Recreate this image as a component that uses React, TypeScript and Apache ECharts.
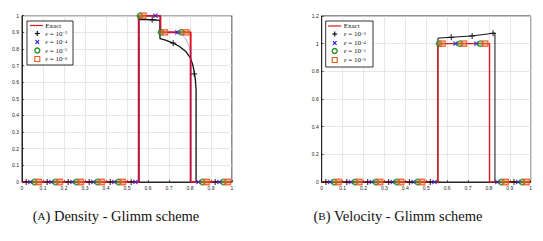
import React, { useEffect, useRef } from "react";
import * as echarts from "echarts";

// ---------- data ----------
const densityExact: number[][] = [[0, 0], [0.556, 0], [0.556, 1], [0.659, 1], [0.659, 0.9], [0.803, 0.9], [0.803, 0], [1, 0]];
const densityE3Line: number[][] = [[0, 0], [0.556, 0], [0.556, 0.978], [0.6, 0.976], [0.64, 0.974], [0.657, 0.972], [0.657, 0.862], [0.68, 0.855], [0.72, 0.835], [0.75, 0.815], [0.78, 0.785], [0.8, 0.75], [0.812, 0.71], [0.82, 0.665], [0.826, 0.61], [0.829, 0.55], [0.829, 0], [1, 0]];
const densityE4Line: number[][] = [[0, 0], [0.556, 0], [0.556, 1], [0.657, 1], [0.657, 0.9], [0.74, 0.9], [0.76, 0.89], [0.78, 0.86], [0.795, 0.82], [0.803, 0.79], [0.803, 0], [1, 0]];
const densityE3Marks: number[][] = [[0.02, 0], [0.12, 0], [0.22, 0], [0.32, 0], [0.42, 0], [0.52, 0], [0.62, 0.975], [0.72, 0.835], [0.82, 0.65], [0.92, 0]];
const densityE4Marks: number[][] = [[0.04, 0], [0.14, 0], [0.24, 0], [0.34, 0], [0.44, 0], [0.54, 0], [0.635, 1], [0.74, 0.9], [0.84, 0], [0.94, 0]];
const densityE5Marks: number[][] = [[0.06, 0], [0.16, 0], [0.26, 0], [0.36, 0], [0.46, 0], [0.562, 1], [0.662, 0.9], [0.76, 0.9], [0.86, 0], [0.96, 0]];
const densityE6Marks: number[][] = [[0.08, 0], [0.18, 0], [0.28, 0], [0.38, 0], [0.48, 0], [0.578, 1], [0.68, 0.9], [0.782, 0.9], [0.88, 0], [0.98, 0]];

const velocityExact: number[][] = [[0, 0], [0.556, 0], [0.556, 1], [0.803, 1], [0.803, 0], [1, 0]];
const velocityE3Line: number[][] = [[0, 0], [0.556, 0], [0.556, 1.04], [0.62, 1.046], [0.72, 1.056], [0.829, 1.077], [0.829, 0], [1, 0]];
const velocityE3Marks: number[][] = [[0.02, 0], [0.12, 0], [0.22, 0], [0.32, 0], [0.42, 0], [0.52, 0], [0.62, 1.046], [0.72, 1.056], [0.82, 1.075], [0.92, 0]];
const velocityE4Marks: number[][] = [[0.04, 0], [0.14, 0], [0.24, 0], [0.34, 0], [0.44, 0], [0.54, 0], [0.64, 1], [0.74, 1], [0.84, 0], [0.94, 0]];
const velocityE5Marks: number[][] = [[0.06, 0], [0.16, 0], [0.26, 0], [0.36, 0], [0.46, 0], [0.562, 1], [0.662, 1], [0.76, 1], [0.86, 0], [0.96, 0]];
const velocityE6Marks: number[][] = [[0.08, 0], [0.18, 0], [0.28, 0], [0.38, 0], [0.48, 0], [0.578, 1], [0.68, 1], [0.782, 1], [0.88, 0], [0.98, 0]];

const legendLabels = ["Exact", "−3", "−4", "−5", "−6"];
const captions = ["Density - Glimm scheme", "Velocity - Glimm scheme"];
const captionLetters = ["A", "B"];

// ---------- styles ----------
const SERIF = "'Liberation Serif', 'DejaVu Serif', serif";
const RED = "#e3161d";
const BLACK = "#111111";
const BLUE = "#1f1fe6";
const GREEN = "#1d8a1d";
const ORANGE = "#e85a1e";
const PLUS = "path://M4,0H6V4H10V6H6V10H4V6H0V4H4Z";

function scatter(data: number[][], idx: number, kind: string) {
  const base: any = {
    type: "scatter",
    data,
    xAxisIndex: idx,
    yAxisIndex: idx,
    z: 5,
    silent: true,
  };
  if (kind === "e3") return { ...base, symbol: PLUS, symbolSize: 6, itemStyle: { color: BLACK } };
  if (kind === "e4") return { ...base, symbol: PLUS, symbolRotate: 45, symbolSize: 6, itemStyle: { color: BLUE } };
  if (kind === "e5") return { ...base, symbol: "circle", symbolSize: 5.5, itemStyle: { color: "rgba(120,180,90,0.55)", borderColor: GREEN, borderWidth: 1.4 } };
  return { ...base, symbol: "rect", symbolSize: 5.5, itemStyle: { color: "rgba(240,130,70,0.6)", borderColor: ORANGE, borderWidth: 1.3 } };
}

function line(data: number[][], idx: number, color: string, width: number, opacity = 1, z = 3) {
  return {
    type: "line",
    data,
    xAxisIndex: idx,
    yAxisIndex: idx,
    symbol: "none",
    z,
    silent: true,
    lineStyle: { color, width, opacity },
  };
}

function legend(x0: number, y0: number, w: number, h: number, rows: number[], mx: number, l1: number, l2: number, tx: number) {
  const els: any[] = [];
  els.push({ type: "rect", shape: { x: x0, y: y0, width: w, height: h }, style: { fill: "#fff", stroke: "#000", lineWidth: 0.8 }, z: 20 });
  els.push({ type: "line", shape: { x1: l1, y1: rows[0], x2: l2, y2: rows[0] }, style: { stroke: RED, lineWidth: 1.2 }, z: 21 });
  els.push({ type: "line", shape: { x1: mx - 2.5, y1: rows[1], x2: mx + 2.5, y2: rows[1] }, style: { stroke: BLACK, lineWidth: 1.2 }, z: 21 });
  els.push({ type: "line", shape: { x1: mx, y1: rows[1] - 2.5, x2: mx, y2: rows[1] + 2.5 }, style: { stroke: BLACK, lineWidth: 1.2 }, z: 21 });
  els.push({ type: "line", shape: { x1: mx - 1.8, y1: rows[2] - 1.8, x2: mx + 1.8, y2: rows[2] + 1.8 }, style: { stroke: BLUE, lineWidth: 1.2 }, z: 21 });
  els.push({ type: "line", shape: { x1: mx - 1.8, y1: rows[2] + 1.8, x2: mx + 1.8, y2: rows[2] - 1.8 }, style: { stroke: BLUE, lineWidth: 1.2 }, z: 21 });
  els.push({ type: "circle", shape: { cx: mx, cy: rows[3], r: 2.5 }, style: { fill: "none", stroke: GREEN, lineWidth: 1.3 }, z: 21 });
  els.push({ type: "rect", shape: { x: mx - 2.5, y: rows[4] - 2.5, width: 5, height: 5 }, style: { fill: "none", stroke: ORANGE, lineWidth: 1.1 }, z: 21 });
  legendLabels.forEach((lab, i) => {
    const text = i === 0 ? "{a|" + lab + "}" : "{e|ε}{a| = 10}{s|" + lab + "}";
    els.push({
      type: "text",
      x: tx,
      y: rows[i],
      z: 21,
      style: {
        text,
        verticalAlign: "middle",
        align: "left",
        fill: "#111",
        fontFamily: SERIF,
        fontSize: 6.5,
        rich: {
          a: { fontSize: 7, fontFamily: SERIF, fill: "#111" },
          e: { fontSize: 7, fontFamily: SERIF, fontStyle: "italic", fill: "#111" },
          s: { fontSize: 4.6, fontFamily: SERIF, verticalAlign: "top", fill: "#111" },
        },
      },
    });
  });
  return els;
}

function caption(cx: number, cy: number, i: number) {
  return {
    type: "text",
    x: cx,
    y: cy,
    z: 21,
    style: {
      text: "{b|(}{c|" + captionLetters[i] + "}{b|) " + captions[i] + "}",
      align: "center",
      verticalAlign: "middle",
      fill: "#111",
      fontFamily: SERIF,
      fontSize: 14.5,
      rich: {
        b: { fontSize: 14.5, fontFamily: SERIF, fill: "#111" },
        c: { fontSize: 11, fontFamily: SERIF, fill: "#111" },
      },
    },
  };
}

const axisLabel = { fontSize: 5, color: "#222", fontFamily: "Liberation Sans", margin: 3 };
const splitLine = { show: true, lineStyle: { color: "#dcdcdc", width: 0.7 } };
const axisLine = { show: true, onZero: false, lineStyle: { color: "#000", width: 0.8 } };
const axisTick = { show: true, inside: true, length: 2, lineStyle: { color: "#000", width: 0.6 } };

export default function App() {
  const ref = useRef<HTMLDivElement>(null);
  useEffect(() => {
    document.body.style.margin = "0";
    const chart = echarts.init(ref.current!, undefined, { renderer: "svg" });
    const grid = (left: number, right: number, top: number) => ({
      left,
      right,
      top,
      bottom: 59,
      show: true,
      borderColor: "#000",
      borderWidth: 0.9,
      backgroundColor: "#fff",
      containLabel: false,
    });
    const xAx = (i: number) => ({
      type: "value",
      gridIndex: i,
      min: 0,
      max: 1,
      interval: 0.1,
      axisLabel,
      splitLine,
      axisLine,
      axisTick,
    });
    chart.setOption({
      animation: false,
      backgroundColor: "#fff",
      grid: [grid(22, 311, 15.7), grid(321.7, 12.3, 16)],
      xAxis: [xAx(0), xAx(1)],
      yAxis: [
        { type: "value", gridIndex: 0, min: 0, max: 1, interval: 0.1, axisLabel, splitLine, axisLine, axisTick },
        { type: "value", gridIndex: 1, min: 0, max: 1.2, interval: 0.2, axisLabel, splitLine, axisLine, axisTick },
      ],
      series: [
        line(densityE3Line, 0, BLACK, 1.3, 1, 2),
        line(densityExact, 0, RED, 2, 1, 3),
        line(densityE4Line, 0, BLUE, 1.1, 0.3, 4),
        scatter(densityE3Marks, 0, "e3"),
        scatter(densityE4Marks, 0, "e4"),
        scatter(densityE5Marks, 0, "e5"),
        scatter(densityE6Marks, 0, "e6"),
        line(velocityE3Line, 1, BLACK, 1, 1, 2),
        line(velocityExact, 1, RED, 1.4, 1, 3),
        scatter(velocityE3Marks, 1, "e3"),
        scatter(velocityE4Marks, 1, "e4"),
        scatter(velocityE5Marks, 1, "e5"),
        scatter(velocityE6Marks, 1, "e6"),
      ],
      graphic: [
        ...legend(27, 21, 46, 44, [25.5, 33.5, 42, 50.5, 59], 37.3, 30, 43, 45.3),
        ...legend(325.7, 21, 47.3, 46, [26, 34, 43, 51, 60], 334.7, 328, 341.3, 343.7),
        caption(116, 216, 0),
        caption(398, 216, 1),
      ],
    });
    return () => chart.dispose();
  }, []);
  return <div ref={ref} style={{ width: 543, height: 241 }} />;
}
